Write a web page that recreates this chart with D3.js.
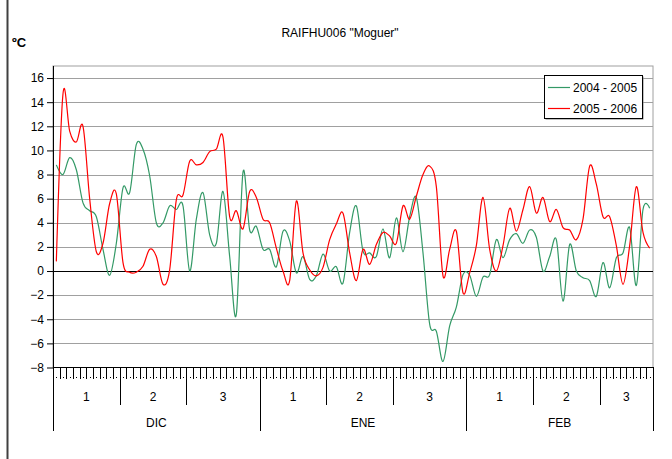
<!DOCTYPE html>
<html>
<head>
<meta charset="utf-8">
<script src="https://cdn.jsdelivr.net/npm/d3@7"></script>
<style>
  body { margin: 0; background: #fff; }
  svg { display: block; font-family: "Liberation Sans", Arial, sans-serif; }
</style>
</head>
<body>
<div id="container"></div>
<script>
/* Chart data: daily temperatures, 1 Dec - 28 Feb */
const months = ["DIC", "ENE", "FEB"];
const monthDays = [31, 31, 28];
const decadeLabels = ["1", "2", "3"];
const yTicks = [-8, -6, -4, -2, 0, 2, 4, 6, 8, 10, 12, 14, 16];
const seriesNames = ["2004 - 2005", "2005 - 2006"];

const t0405 = [8.8, 8.0, 9.4, 8.4, 5.65, 5.0, 4.5, 1.8, -0.35, 2.3,
  6.9, 6.5, 10.5, 10.1, 7.9, 4.0, 4.0, 5.4, 5.1, 5.4,
  0.0, 4.3, 6.5, 3.0, 2.3, 6.6, 1.2, -3.6, 8.2, 3.4,
  3.7, 1.8, 1.8, 0.35, 3.3, 2.5, -0.15, 1.2, -0.7, -0.4,
  1.4, 0.0, 0.35, -1.0, 3.2, 5.4, 1.65, 1.5, 1.2, 3.5,
  1.1, 4.4, 1.6, 4.5, 6.1, 1.5, -4.4, -5.0, -7.5, -4.55,
  -3.0, -0.3, -0.35, -2.1, -0.5, -0.3, 2.6, 1.1, 2.6, 3.1,
  2.3, 3.4, 2.8, 0.0, 1.2, 2.6, -2.5, 2.2, 0.0, -0.55,
  -0.8, -2.1, 0.7, -1.4, 1.1, 1.5, 3.6, -1.2, 5.1, 5.2];

const t0506 = [0.8, 14.7, 11.6, 10.7, 12.0, 6.0, 1.6, 2.3, 5.6, 6.4,
  0.7, -0.1, -0.1, 0.4, 1.8, 1.2, -1.1, 0.1, 5.9, 6.3,
  9.1, 8.8, 9.0, 9.9, 10.1, 11.1, 4.5, 5.0, 3.5, 6.6,
  6.1, 4.3, 4.0, 1.9, 0.0, -0.8, 5.8, 1.5, 0.1, -0.4,
  0.3, 2.6, 3.9, 4.8, 1.5, -0.8, 1.8, 0.55, 2.2, 3.2,
  2.9, 2.3, 5.4, 4.3, 6.2, 8.0, 8.7, 7.0, -0.4, 1.8,
  3.3, -1.8, -0.15, 2.1, 6.1, 1.8, 0.0, 2.1, 5.2, 3.3,
  5.1, 7.0, 4.8, 6.1, 4.1, 5.1, 3.6, 3.4, 2.6, 4.3,
  8.7, 7.2, 4.5, 4.5, 2.1, -1.1, 2.1, 7.0, 3.2, 1.9];

const colors = ["#339966", "#ff0000"];

const width = 672, height = 459;
const plot = {left: 53, right: 653, top: 66, bottom: 367.5};
const nDays = d3.sum(monthDays);

const svg = d3.select("#container").append("svg")
  .attr("width", width).attr("height", height);

/* chart border (left side visible) */
svg.append("line")
  .attr("x1", 7.5).attr("x2", 7.5).attr("y1", 0).attr("y2", height)
  .attr("stroke", "#404040").attr("stroke-width", 2);

const x = d3.scaleLinear().domain([0, nDays]).range([plot.left, plot.right]);
const y = d3.scaleLinear().domain([-8, 17]).range([plot.bottom, plot.top]);

/* title */
svg.append("text")
  .attr("x", 340).attr("y", 37)
  .attr("text-anchor", "middle")
  .attr("font-size", 12)
  .text('RAIFHU006 "Moguer"');

svg.append("text")
  .attr("x", 12).attr("y", 47)
  .attr("font-size", 13).attr("font-weight", "bold")
  .text("ºC");

/* plot frame */
svg.append("rect")
  .attr("x", plot.left).attr("y", plot.top)
  .attr("width", plot.right - plot.left).attr("height", plot.bottom - plot.top)
  .attr("fill", "none").attr("stroke", "#a0a0a0");

/* gridlines */
svg.append("g").selectAll("line")
  .data(yTicks.filter(d => d !== 0 && d !== -8))
  .enter().append("line")
  .attr("x1", plot.left).attr("x2", plot.right)
  .attr("y1", d => Math.round(y(d)) + 0.5).attr("y2", d => Math.round(y(d)) + 0.5)
  .attr("stroke", "#a0a0a0");

/* y axis */
const yAxis = d3.axisLeft(y).tickValues(yTicks).tickSize(6).tickPadding(3);
const gy = svg.append("g")
  .attr("transform", "translate(" + plot.left + ",0)")
  .call(yAxis);
gy.select(".domain").remove();
gy.selectAll(".tick line").attr("stroke", "#000");
gy.selectAll(".tick text").attr("font-size", 12).attr("fill", "#000")
  .attr("font-family", "Liberation Sans, Arial, sans-serif");
svg.append("line")
  .attr("x1", plot.left + 0.5).attr("x2", plot.left + 0.5)
  .attr("y1", plot.top).attr("y2", 431)
  .attr("stroke", "#000");

/* zero line and bottom axis */
svg.append("line")
  .attr("x1", plot.left).attr("x2", plot.right)
  .attr("y1", Math.round(y(0)) + 0.5).attr("y2", Math.round(y(0)) + 0.5)
  .attr("stroke", "#000");
svg.append("line")
  .attr("x1", plot.left).attr("x2", plot.right)
  .attr("y1", Math.round(y(-8)) - 0.5).attr("y2", Math.round(y(-8)) - 0.5)
  .attr("stroke", "#000");

/* day ticks and dots */
const days = d3.range(nDays);
svg.append("g").selectAll("line")
  .data(d3.range(nDays + 1))
  .enter().append("line")
  .attr("x1", d => Math.round(x(d)) + 0.5).attr("x2", d => Math.round(x(d)) + 0.5)
  .attr("y1", 367).attr("y2", 379)
  .attr("stroke", "#000");
svg.append("g").selectAll("rect")
  .data(days)
  .enter().append("rect")
  .attr("x", d => Math.round(x(d + 0.5)))
  .attr("y", 377).attr("width", 1).attr("height", 1)
  .attr("fill", "#000");

/* decades and months */
let decades = [];
let monthRanges = [];
let start = 0;
monthDays.forEach((n, m) => {
  monthRanges.push({label: months[m], s: start, e: start + n});
  decades.push({label: decadeLabels[0], s: start, e: start + 10});
  decades.push({label: decadeLabels[1], s: start + 10, e: start + 20});
  decades.push({label: decadeLabels[2], s: start + 20, e: start + n});
  start += n;
});

svg.append("g").selectAll("line")
  .data(decades)
  .enter().append("line")
  .attr("x1", d => Math.round(x(d.e)) + 0.5).attr("x2", d => Math.round(x(d.e)) + 0.5)
  .attr("y1", 379).attr("y2", 405)
  .attr("stroke", "#000");
svg.append("g").selectAll("text")
  .data(decades)
  .enter().append("text")
  .attr("x", d => x((d.s + d.e) / 2)).attr("y", 401)
  .attr("text-anchor", "middle").attr("font-size", 12)
  .text(d => d.label);

svg.append("g").selectAll("line")
  .data(monthRanges)
  .enter().append("line")
  .attr("x1", d => Math.round(x(d.e)) + 0.5).attr("x2", d => Math.round(x(d.e)) + 0.5)
  .attr("y1", 379).attr("y2", 431)
  .attr("stroke", "#000");
svg.append("g").selectAll("text")
  .data(monthRanges)
  .enter().append("text")
  .attr("x", d => x((d.s + d.e) / 2)).attr("y", 427)
  .attr("text-anchor", "middle").attr("font-size", 12)
  .text(d => d.label);

/* series lines */
const line = d3.line()
  .x((d, i) => x(i + 0.5))
  .y(d => y(d))
  .curve(d3.curveCatmullRom.alpha(0));

[t0405, t0506].forEach((s, k) => {
  svg.append("path")
    .datum(s)
    .attr("d", line)
    .attr("fill", "none")
    .attr("stroke", colors[k])
    .attr("stroke-width", 1.2);
});

/* legend */
const lg = svg.append("g").attr("transform", "translate(544,75)");
lg.append("rect")
  .attr("x", 1.5).attr("y", 1.5).attr("width", 98).attr("height", 43)
  .attr("fill", "#808080");
lg.append("rect")
  .attr("x", 0.5).attr("y", 0.5).attr("width", 98).attr("height", 43)
  .attr("fill", "#fff").attr("stroke", "#000");
seriesNames.forEach((n, k) => {
  const yy = 12.5 + k * 21;
  lg.append("line")
    .attr("x1", 4).attr("x2", 26).attr("y1", yy).attr("y2", yy)
    .attr("stroke", colors[k]).attr("stroke-width", 1.2);
  lg.append("text")
    .attr("x", 29).attr("y", yy + 4.5)
    .attr("font-size", 12)
    .text(n);
});
</script>
</body>
</html>
